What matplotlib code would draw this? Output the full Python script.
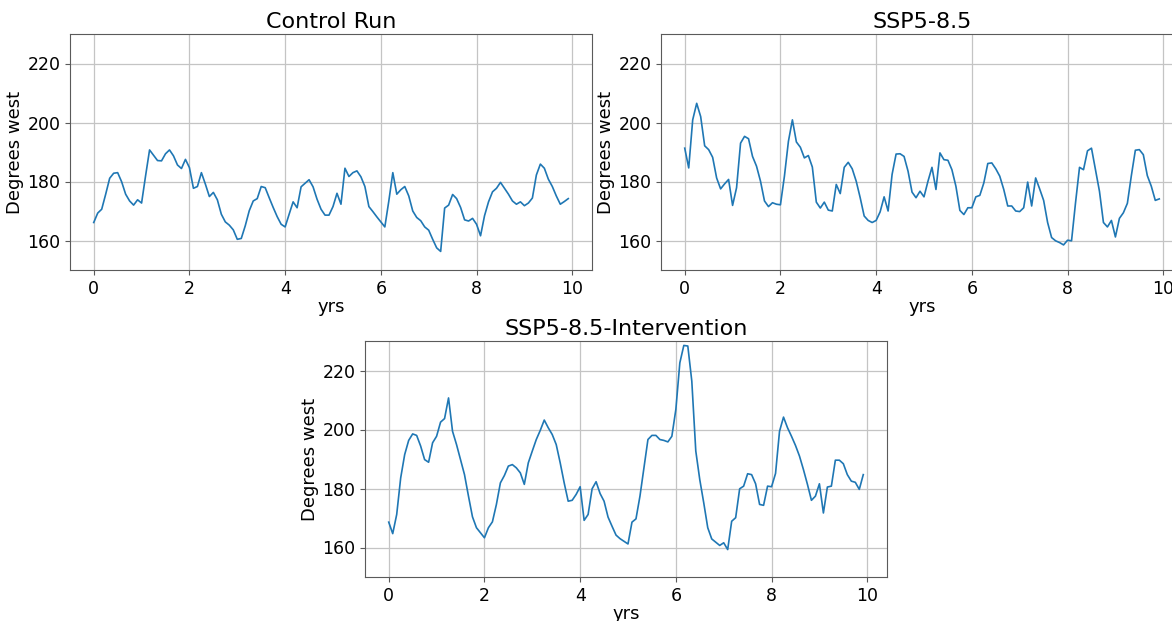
import numpy as np
import matplotlib
matplotlib.use("Agg")
import matplotlib.pyplot as plt

# Monthly longitude of the tracked feature over ten years (degrees west)
control_run = [
    166.1, 169.3, 170.6, 175.7, 181.1, 182.8, 183.0, 179.9, 175.7, 173.4,
    172.0, 173.8, 172.7, 181.9, 190.7, 188.9, 187.1, 187.0, 189.4, 190.7,
    188.7, 185.6, 184.4, 187.5, 184.7, 177.7, 178.3, 183.0, 179.1, 174.9,
    176.3, 173.8, 168.9, 166.3, 165.2, 163.6, 160.4, 160.7, 165.0, 170.1,
    173.4, 174.2, 178.3, 177.9, 174.5, 171.2, 168.1, 165.5, 164.6, 168.9,
    173.1, 171.1, 178.2, 179.4, 180.6, 178.2, 174.0, 170.6, 168.6, 168.6,
    171.5, 176.0, 172.3, 184.5, 181.7, 183.0, 183.6, 181.6, 178.3, 171.5,
    169.8, 168.0, 166.3, 164.6, 173.4, 183.0, 175.7, 177.2, 178.3, 175.1,
    170.0, 167.8, 166.7, 164.6, 163.5, 160.4, 157.5, 156.3, 171.0, 172.0,
    175.6, 174.2, 171.2, 167.0, 166.6, 167.5, 165.5, 161.6, 168.4, 173.1,
    176.5, 177.7, 179.7, 177.7, 175.7, 173.4, 172.3, 173.1, 171.8, 172.7,
    174.4, 182.2, 185.9, 184.5, 180.8, 178.3, 175.1, 172.3, 173.2, 174.2,
]

ssp585 = [
    191.3, 184.6, 200.9, 206.5, 202.0, 192.1, 190.8, 188.2, 181.2, 177.5,
    179.2, 180.7, 171.9, 177.9, 193.0, 195.3, 194.5, 188.5, 185.2, 180.1,
    173.4, 171.5, 172.8, 172.3, 172.1, 181.8, 193.6, 200.9, 193.4, 191.6,
    188.0, 188.8, 184.9, 173.0, 171.0, 173.0, 170.3, 170.0, 179.0, 175.9,
    184.8, 186.5, 184.3, 180.1, 174.5, 168.3, 166.8, 166.1, 166.8, 169.7,
    174.8, 170.0, 182.4, 189.3, 189.4, 188.5, 183.5, 176.4, 174.5, 176.7,
    174.8, 180.1, 184.8, 177.3, 189.7, 187.4, 187.2, 184.0, 178.4, 170.2,
    168.8, 171.1, 171.1, 174.8, 175.3, 179.5, 186.1, 186.3, 184.3, 181.8,
    177.3, 171.7, 171.7, 170.0, 169.8, 171.1, 179.8, 171.7, 181.2, 177.5,
    173.6, 166.1, 161.0, 159.9, 159.3, 158.5, 160.1, 159.9, 172.8, 184.8,
    184.0, 190.4, 191.3, 184.0, 176.7, 166.1, 164.6, 166.8, 161.2, 167.5,
    169.4, 172.6, 182.0, 190.6, 190.8, 189.1, 182.0, 178.4, 173.6, 174.1,
]

ssp585_intervention = [
    168.6, 164.7, 171.2, 183.6, 191.5, 196.3, 198.5, 198.0, 194.4, 189.8,
    188.9, 195.5, 197.7, 202.5, 203.7, 210.7, 199.4, 194.9, 189.8, 184.7,
    177.4, 170.4, 166.7, 165.0, 163.3, 166.7, 168.7, 174.6, 181.9, 184.4,
    187.6, 188.1, 187.0, 185.3, 181.4, 188.7, 192.7, 196.6, 199.7, 203.2,
    200.6, 198.3, 194.9, 188.7, 181.9, 175.7, 176.0, 178.0, 180.6, 169.2,
    171.2, 179.9, 182.3, 178.3, 175.7, 170.3, 167.2, 164.2, 163.0, 162.1,
    161.2, 168.6, 169.7, 177.4, 187.0, 196.6, 198.0, 198.0, 196.6, 196.3,
    195.8, 197.7, 206.8, 222.6, 228.5, 228.3, 216.4, 192.7, 183.0, 175.1,
    166.7, 162.9, 161.8, 160.7, 161.6, 159.3, 168.9, 170.1, 179.9, 180.8,
    185.0, 184.7, 181.6, 174.6, 174.3, 180.8, 180.6, 185.1, 199.4, 204.2,
    200.6, 197.7, 194.6, 191.0, 186.4, 181.4, 176.0, 177.4, 181.6, 171.7,
    180.5, 180.8, 189.6, 189.6, 188.4, 184.7, 182.5, 182.1, 179.7, 184.7,
]

titles = ["Control Run", "SSP5-8.5", "SSP5-8.5-Intervention"]
series = [control_run, ssp585, ssp585_intervention]
y_ticks = [160, 180, 200, 220]
x_ticks = [0, 2, 4, 6, 8, 10]

years = np.arange(len(control_run)) / 12.0

W, H = 1172, 621
fig = plt.figure(figsize=(W / 100, H / 100), dpi=100)

# axes boxes in pixels: left, top, right, bottom
boxes = [
    (70, 34, 592, 270),
    (661, 34, 1183, 270),
    (365, 341, 887, 577),
]

spine_col = "#5a5a5a"
for (l, t, r, b), title, vals in zip(boxes, titles, series):
    ax = fig.add_axes([l / W, (H - b) / H, (r - l) / W, (b - t) / H])
    ax.plot(years, vals, color="#1f77b4", lw=1.2)
    ax.set_ylim(150, 230)
    ax.set_yticks(y_ticks)
    ax.set_xticks(x_ticks)
    ax.grid(True, color="#c4c4c4", lw=0.9)
    ax.set_axisbelow(True)
    ax.set_title(title, fontsize=16, pad=4)
    ax.set_xlabel("yrs", fontsize=13, labelpad=0)
    ax.set_ylabel("Degrees west", fontsize=13, labelpad=2)
    ax.tick_params(labelsize=12.5, color=spine_col)
    for s in ax.spines.values():
        s.set_color(spine_col)

fig.savefig("out.png", dpi=100)
